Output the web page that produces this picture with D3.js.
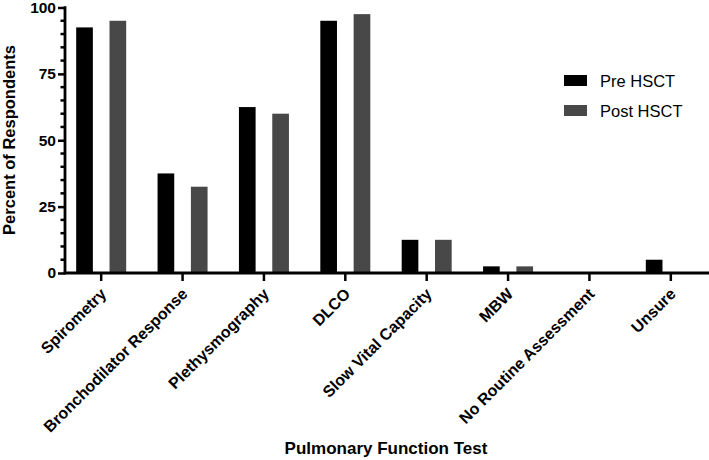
<!DOCTYPE html>
<html>
<head>
<meta charset="utf-8">
<script src="https://cdn.jsdelivr.net/npm/d3@7"></script>
<style>
  html, body { margin: 0; padding: 0; background: #fff; }
  svg { display: block; font-family: "Liberation Sans", Arial, Helvetica, sans-serif; }
</style>
</head>
<body>
<svg id="chart" width="709" height="460"></svg>
<script>
const categories = ["Spirometry", "Bronchodilator Response", "Plethysmography", "DLCO",
  "Slow Vital Capacity", "MBW", "No Routine Assessment", "Unsure"];
const preHSCT  = [92.5, 37.5, 62.5, 95, 12.5, 2.5, 0, 5];
const postHSCT = [95, 32.5, 60, 97.5, 12.5, 2.5, 0, 0];
const seriesNames = ["Pre HSCT", "Post HSCT"];
const seriesColors = ["#000000", "#484848"];
const yTicks = [0, 25, 50, 75, 100];
const yMinorTicks = d3.range(0, 101, 5).filter(v => v % 25 !== 0);

const svg = d3.select("#chart");
const axisX0 = 65, yBottom = 273, yTop = 7.5;

const x = d3.scaleBand().domain(categories).range([60.5, 711.5]).paddingInner(0).paddingOuter(0);
const y = d3.scaleLinear().domain([0, 100]).range([yBottom, yTop]);
const sub = d3.scaleBand().domain(seriesNames).range([-25, 25]).paddingInner(0.5).paddingOuter(0);

// Bars
const series = [preHSCT, postHSCT];
series.forEach((vals, si) => {
  svg.append("g").selectAll("rect").data(categories).join("rect")
    .attr("x", c => x(c) + x.bandwidth() / 2 + sub(seriesNames[si]))
    .attr("width", sub.bandwidth())
    .attr("y", (c, i) => y(vals[i]))
    .attr("height", (c, i) => y(0) - y(vals[i]))
    .attr("fill", seriesColors[si]);
});

// Y axis
const yAxisG = svg.append("g").attr("transform", `translate(${axisX0},0)`);
yAxisG.call(d3.axisLeft(y).tickValues(yTicks).tickSize(7).tickPadding(2).tickFormat(d3.format("d")));
yAxisG.select(".domain").remove();
yAxisG.selectAll(".tick line").attr("stroke", "#000").attr("stroke-width", 2.5);
yAxisG.selectAll(".tick text").attr("font-size", 15.5).attr("font-weight", "bold").attr("fill", "#000");
yAxisG.append("g").selectAll("line").data(yMinorTicks).join("line")
  .attr("x1", -4.5).attr("x2", 0).attr("y1", d => y(d)).attr("y2", d => y(d))
  .attr("stroke", "#000").attr("stroke-width", 2.5);
yAxisG.append("line").attr("x1", 0).attr("x2", 0).attr("y1", y(100) - 1.2).attr("y2", y(0) + 1.2)
  .attr("stroke", "#000").attr("stroke-width", 2.8);

// X axis
const xAxisG = svg.append("g").attr("transform", `translate(0,${yBottom})`);
xAxisG.call(d3.axisBottom(x).tickSize(8).tickPadding(4));
xAxisG.select(".domain").remove();
xAxisG.append("line").attr("x1", axisX0 - 1.4).attr("x2", 709).attr("y1", 0).attr("y2", 0)
  .attr("stroke", "#000").attr("stroke-width", 2.8);
xAxisG.selectAll(".tick line").attr("stroke", "#000").attr("stroke-width", 2.5);
xAxisG.selectAll(".tick text")
  .attr("font-size", 16).attr("font-weight", "bold").attr("fill", "#000")
  .attr("text-anchor", "end")
  .attr("x", 0).attr("y", 0).attr("dy", 0)
  .attr("transform", "translate(6,22) rotate(-45)");

// Axis titles
svg.append("text")
  .attr("transform", `translate(15,140) rotate(-90)`)
  .attr("text-anchor", "middle").attr("font-size", 16.5).attr("font-weight", "bold")
  .text("Percent of Respondents");
svg.append("text")
  .attr("x", 386).attr("y", 454)
  .attr("text-anchor", "middle").attr("font-size", 17).attr("font-weight", "bold")
  .text("Pulmonary Function Test");

// Legend
const legend = svg.append("g").attr("transform", "translate(564,75)");
seriesNames.forEach((name, i) => {
  const g = legend.append("g").attr("transform", `translate(0,${i * 30})`);
  g.append("rect").attr("width", 23).attr("height", 11).attr("fill", seriesColors[i]);
  g.append("text").attr("x", 36).attr("y", 11.5).attr("font-size", 16.5).attr("fill", "#000").text(name);
});
</script>
</body>
</html>
